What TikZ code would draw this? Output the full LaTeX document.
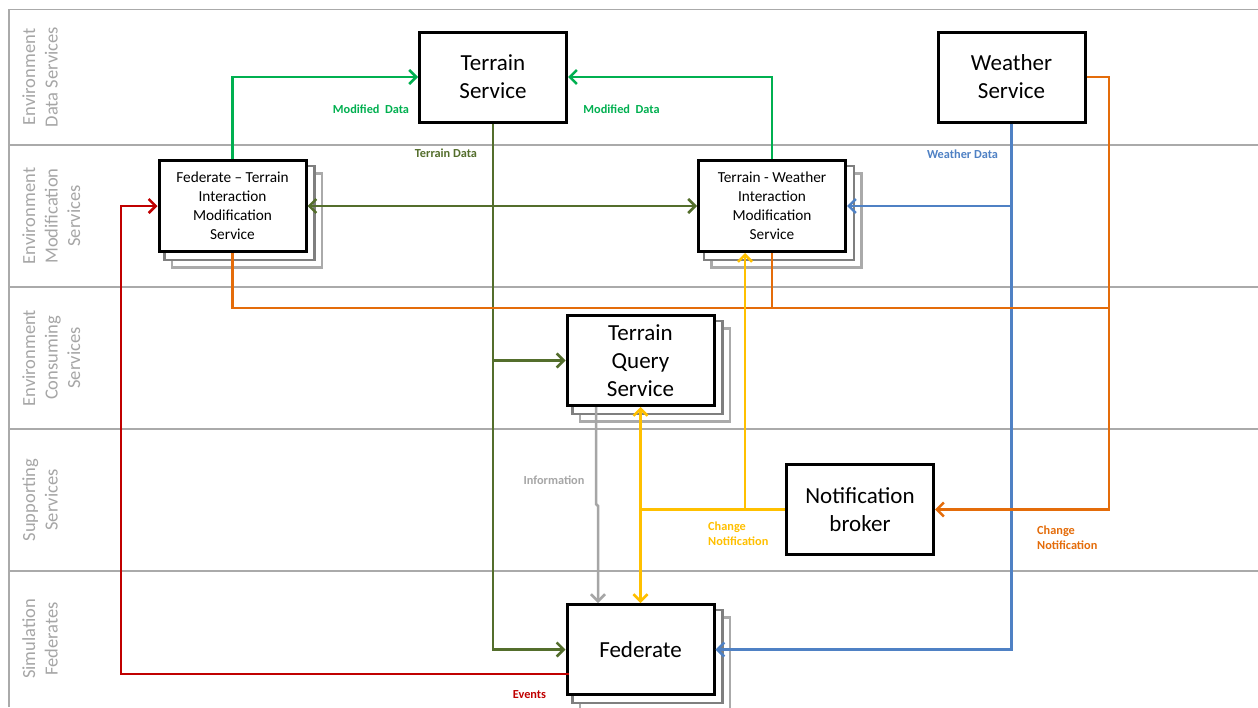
\documentclass[tikz,border=0pt]{standalone}
\usepackage{fontspec}
\setmainfont{Carlito}
\usetikzlibrary{arrows.meta,calc,backgrounds}
\definecolor{grn}{RGB}{0,176,80}
\definecolor{olv}{RGB}{84,110,44}
\definecolor{blu}{RGB}{79,129,196}
\definecolor{org}{RGB}{228,108,10}
\definecolor{ylw}{RGB}{255,192,0}
\definecolor{gry}{RGB}{166,166,166}
\definecolor{rd}{RGB}{192,0,0}
\definecolor{laneg}{RGB}{170,170,170}
\definecolor{lanetxt}{RGB}{166,166,166}
\definecolor{shd}{RGB}{127,127,127}
\definecolor{shl}{RGB}{170,170,170}
\begin{document}
\begin{tikzpicture}[x=1pt,y=-1pt,
  lane/.style={draw=laneg,line width=1.6pt},
  lanelbl/.style={rotate=90,anchor=base,inner sep=0pt,text=lanetxt,font=\fontsize{18.5}{22.5}\selectfont},
  bigbox/.style={draw=black,line width=3pt,fill=white,align=center,minimum width=147pt,minimum height=90pt,inner sep=0pt,font=\fontsize{23}{28}\selectfont},
  smallbox/.style={bigbox,minimum height=91pt,font=\fontsize{15.3}{18.9}\selectfont},
  shadd/.style={draw=shd,line width=2.5pt,fill=white},
  shadl/.style={draw=shl,line width=2.5pt,fill=white},
  conn/.style={line width=2.5pt,>={Straight Barb[length=7pt,width=14pt]}},
  lbl/.style={font=\bfseries\fontsize{12.3}{15}\selectfont,inner sep=0pt}]
\useasboundingbox (0,0) rectangle (1258,707);

% lanes
\begin{scope}[on background layer]
\fill[white] (0,0) rectangle (1258,707);
\draw[lane] (9,707) -- (9,9.5) -- (1258,9.5);
\foreach \y in {145,287,429,571} \draw[lane] (9,\y) -- (1258,\y);
\end{scope}

% lane labels
\node[lanelbl] (l1a) at (35,77) {Environment};
\node[lanelbl] (l1b) at (57.5,77) {Data Services};
\node[lanelbl] (l2a) at (35,216) {Environment};
\node[lanelbl] (l2b) at (57.5,216) {Modification};
\node[lanelbl] (l2c) at (80,216) {Services};
\node[lanelbl] (l3a) at (35,358) {Environment};
\node[lanelbl] (l3b) at (57.5,358) {Consuming};
\node[lanelbl] (l3c) at (80,358) {Services};
\node[lanelbl] (l4a) at (35,500) {Supporting};
\node[lanelbl] (l4b) at (57.5,500) {Services};
\node[lanelbl] (l5a) at (35,639) {Simulation};
\node[lanelbl] (l5b) at (57.5,639) {Federates};

% boxes
\node[bigbox] (TS) at (493,77) {Terrain\\Service};
\node[bigbox] (WS) at (1011.5,77) {Weather\\Service};
\node[smallbox] (FT) at (232.5,206) {Federate -- Terrain\\Interaction\\Modification\\Service};
\node[smallbox] (TW) at (772,206) {Terrain - Weather\\Interaction\\Modification\\Service};
\node[bigbox] (TQ) at (640.5,360.5) {Terrain\\Query\\Service};
\node[bigbox] (NB) at (860,509.5) {Notification\\broker};
\node[bigbox] (FD) at (640.5,649.5) {Federate};

% shadows
\begin{scope}[on background layer]
\foreach \n in {FT,TW,TQ,FD} {
  \draw[shadl] ($(\n.north west)+(14.5,14.5)$) rectangle ($(\n.south east)+(14.5,14.5)$);
  \draw[shadd] ($(\n.north west)+(6.75,6.75)$) rectangle ($(\n.south east)+(6.75,6.75)$);
}
\end{scope}

% connectors
\draw[conn,grn,->] (FT.north) |- (TS.west);
\draw[conn,grn,->] (TW.north) |- (TS.east);
\draw[conn,olv,->] (TS.south) |- (FD.west);
\draw[conn,olv,->] (TS.south |- TQ.west) -- (TQ.west);
\draw[conn,olv,<->] (FT.east) -- (TW.west);
\draw[conn,blu,->] (WS.south) |- (FD.east);
\draw[conn,blu,->] (WS.south |- TW.east) -- (TW.east);
\coordinate (oj) at (1109,308);
\draw[conn,org,->] (WS.east) -| (oj) |- (NB.east);
\draw[conn,org] (FT.south) |- (oj);
\draw[conn,org] (TW.south) -- (TW.south |- oj);
\draw[conn,ylw,<->] (TQ.south) -- (FD.north);
\draw[conn,ylw] (NB.west) -- (TQ.south |- NB.west);
\coordinate (yj) at ($(NB.west)+(-40,0)$);
\draw[conn,ylw,->] (yj) -- (yj |- TW.south);
\coordinate (ga) at ($(TQ.south)+(-44.5,0)$);
\coordinate (gb) at ($(FD.north)+(-42.5,0)$);
\draw[conn,gry,->] (ga) -- ++(0,97) -- ++(2,2) -- (gb);
\coordinate (rs) at ($(FD.west)+(3,24.5)$);
\coordinate (rc) at (121,674);
\draw[conn,rd,->] (rs) -- (rc) |- (FT.west);

% labels
\node[lbl,text=grn] (md1) at (371,109) {Modified\ \ Data};
\node[lbl,text=grn] (md2) at (621.5,109) {Modified\ \ Data};
\node[lbl,text=olv] (td) at (446,153) {Terrain Data};
\node[lbl,text=blu] (wd) at (962.5,154) {Weather Data};
\node[lbl,text=org,align=left,anchor=north west] (cn1) at (1037,526) {Change\\Notification};
\node[lbl,text=ylw,align=left,anchor=north west] (cn2) at (708,522) {Change\\Notification};
\node[lbl,text=gry] (inf) at (554,480) {Information};
\node[lbl,text=rd] (ev) at (529.5,695) {Events};
\end{tikzpicture}
\end{document}
